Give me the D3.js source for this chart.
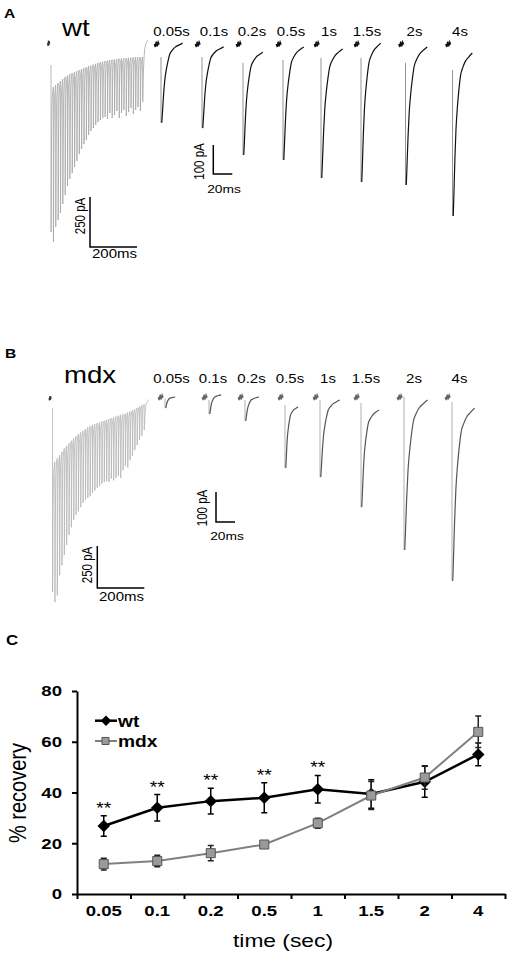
<!DOCTYPE html>
<html>
<head>
<meta charset="utf-8">
<script src="https://cdn.jsdelivr.net/npm/d3@7"></script>
<style>
  body { margin: 0; background: #fff; }
  svg { display: block; }
  text { font-family: "Liberation Sans", Arial, sans-serif; }
</style>
</head>
<body>
<svg id="fig" width="510" height="959"></svg>
<script>
// ---------------- data ----------------
const intervals = ["0.05s", "0.1s", "0.2s", "0.5s", "1s", "1.5s", "2s", "4s"];

// 100 Hz train, peak amplitude of each EPSC (pA) and the level reached before the next one
const wtTrainPeak = [945, 995, 920, 885, 850, 805, 760, 715, 680, 650, 620, 590, 555, 530, 505, 485, 460, 440, 425, 410,
  395, 385, 375, 370, 380, 350, 375, 360, 340, 375, 350, 335, 365, 345, 325, 355, 335, 320, 340, 295];
const wtTrainRecov = [220, 210, 200, 190, 180, 170, 162, 155, 150, 145, 140, 135, 130, 125, 120, 115, 112, 108, 104, 100,
  96, 93, 90, 88, 85, 83, 82, 80, 78, 77, 76, 75, 74, 73, 72, 71, 70, 70, 70];
const mdxTrainPeak = [1155, 1215, 1175, 1055, 995, 935, 875, 815, 770, 725, 695, 675, 650, 625, 605, 595, 585, 565, 550, 535,
  525, 510, 500, 495, 500, 480, 490, 475, 465, 475, 430, 405, 415, 370, 345, 310, 280, 250, 225, 190];
const mdxTrainRecov = [380, 360, 340, 320, 300, 285, 270, 255, 240, 228, 215, 205, 195, 185, 175, 168, 160, 155, 150, 145,
  140, 135, 130, 125, 120, 115, 110, 105, 100, 96, 92, 86, 80, 74, 68, 60, 52, 44, 36];

// single test EPSCs after each recovery interval (pA)
const wtRecPeak = [272, 290, 383, 400, 462, 476, 486, 593];
const wtRecTop = [45, 45, 65, 55, 48, 48, 65, 90];
const wtRecEnd = [-3, 10, 28, 10, 17, -3, 10, 31];
const wtRecDur = [22, 22, 20, 21, 22, 20, 22, 20];
const mdxRecPeak = [37, 57, 80, 237, 267, 367, 510, 613];
const mdxRecTop = [5, 10, 10, 27, 10, 20, 0, 17];
const mdxRecEnd = [0, -7, 0, 33, 10, 43, 10, 37];
const mdxRecDur = [10, 12, 14, 13, 20, 18, 24, 23];

// EPSC decay shape: [ms after peak, fraction of amplitude]
const decayShape = [[0, 1], [0.8, 0.85], [1.8, 0.65], [3, 0.47], [4.6, 0.33], [6, 0.24], [8, 0.14],
  [10.5, 0.09], [13.5, 0.05], [17, 0.025], [21, 0]];
const baseBit = [[-7, 0], [-6, 10], [-5, -8], [-4, 8], [-3, -6], [-2, 2]];

// panel C
const cats = ["0.05", "0.1", "0.2", "0.5", "1", "1.5", "2", "4"];
const wtMean = [26.8, 34, 36.6, 37.9, 41.3, 39.4, 44.2, 55];
const wtErr = [4, 5.2, 5.1, 5.9, 5.4, 5.6, 6.1, 4.5];
const mdxMean = [11.8, 13, 16.1, 19.5, 27.9, 38.8, 45.9, 63.9];
const mdxErr = [2.3, 2.3, 3, 1.5, 2, 5.5, 4.6, 6.2];
const sig = ["**", "**", "**", "**", "**", "", "", ""];
const yTicks = [0, 20, 40, 60, 80];

// ---------------- helpers ----------------
const S = 1.2; // the original lettering is stretched horizontally
const PULSE_MS = 10;
const svg = d3.select("#fig");
svg.append("rect").attr("width", 510).attr("height", 959).attr("fill", "#fff");

const label = (g, x, y, str, o = {}) =>
  g.append("text")
    .attr("transform", `translate(${x},${y}) scale(${S},1)` + (o.rotate ? " rotate(-90)" : ""))
    .attr("text-anchor", o.anchor || "start")
    .attr("dy", o.dy || null)
    .style("font-size", (o.size || 12) + "px")
    .style("font-weight", o.bold ? "bold" : "normal")
    .attr("fill", "#000")
    .text(str);

const drawTrain = (g, peaks, recov, startLevel, endLevel, x, y, color) => {
  const pts = [[0, startLevel]];
  peaks.forEach((p, i) => {
    const t0 = i * PULSE_MS;
    const last = i === peaks.length - 1;
    const target = last ? endLevel : recov[i];
    const span = last ? 22 : PULSE_MS - 0.6;
    pts.push([t0 + 0.3, p]);
    decayShape.slice(1).forEach(([dt, f]) => {
      pts.push([t0 + 0.6 + (dt / 21) * span, target + (p - target) * f]);
    });
  });
  const line = d3.line().x((d) => x(d[0])).y((d) => y(d[1]));
  g.append("path").datum(pts).attr("d", line)
    .attr("fill", "none").attr("stroke", color).attr("stroke-width", 0.8);
  g.append("path").datum(baseBit.map(([t, v]) => [t * 1.8 - 2, v * 1.5]))
    .attr("d", line).attr("fill", "none").attr("stroke", "#333").attr("stroke-width", 1.2);
};

const drawRecovery = (g, cols, peaks, tops, ends, durs, baseY, pxPerPA, col) => {
  intervals.forEach((lab, i) => {
    const c = cols(lab);
    const x = d3.scaleLinear().domain([0, 20]).range([c, c + 19]);
    const y = d3.scaleLinear().domain([0, 100]).range([baseY, baseY + 100 * pxPerPA]);
    const line = d3.line().x((d) => x(d[0])).y((d) => y(d[1]));
    g.append("path").datum(baseBit).attr("d", line)
      .attr("fill", "none").attr("stroke", col.base).attr("stroke-width", 1.5);
    g.append("path").datum([[0, tops[i]], [0, peaks[i]]]).attr("d", line)
      .attr("fill", "none").attr("stroke", col.spike).attr("stroke-width", 0.9);
    const dec = decayShape.map(([dt, f]) => [0.8 + (dt / 21) * durs[i], ends[i] + (peaks[i] - ends[i]) * f]);
    g.append("path").datum(dec).attr("d", line.curve(d3.curveMonotoneX))
      .attr("fill", "none").attr("stroke", col.decay).attr("stroke-width", 1.2);
  });
};

const scaleBar = (g, x0, y0, w, h) => {
  g.append("path").attr("d", `M${x0},${y0 - h}V${y0}H${x0 + w}`)
    .attr("fill", "none").attr("stroke", "#000").attr("stroke-width", 1.5);
};

// ---------------- panel A (wt) ----------------
const gA = svg.append("g");
label(gA, 4, 17.5, "A", { size: 13, bold: true });
label(gA, 62, 36, "wt", { size: 23 });
const xTrainA = d3.scaleLinear().domain([0, 400]).range([51, 145]);
const yTrainA = d3.scaleLinear().domain([0, 250]).range([43, 93]);
drawTrain(gA, wtTrainPeak, wtTrainRecov, 110, -15, xTrainA, yTrainA, "#a6a6a6");
const labA = d3.scaleOrdinal().domain(intervals).range([171.5, 214, 252, 291, 329, 367, 414.5, 460]);
const colA = d3.scaleOrdinal().domain(intervals).range([161, 202, 243, 283, 321, 361, 405.5, 452.5]);
intervals.forEach((d) => label(gA, labA(d), 36, d, { size: 12.5, anchor: "middle" }));
drawRecovery(gA, colA, wtRecPeak, wtRecTop, wtRecEnd, wtRecDur, 44, 0.29,
  { base: "#111", spike: "#8a8a8a", decay: "#111" });

scaleBar(gA, 90, 247, xTrainA(200) - xTrainA(0), yTrainA(250) - yTrainA(0));
label(gA, 80, 216, "250 pA", { size: 11.5, rotate: true, anchor: "middle", dy: "0.35em" });
label(gA, 114.5, 258, "200ms", { size: 12.5, anchor: "middle" });
scaleBar(gA, 213.3, 174, 19, 29);
label(gA, 199, 161.5, "100 pA", { size: 11.5, rotate: true, anchor: "middle", dy: "0.35em" });
label(gA, 224, 193, "20ms", { size: 11.5, anchor: "middle" });

// ---------------- panel B (mdx) ----------------
const gB = svg.append("g");
label(gB, 5, 358, "B", { size: 13, bold: true });
label(gB, 64, 383, "mdx", { size: 23 });
const xTrainB = d3.scaleLinear().domain([0, 400]).range([52.5, 146.5]);
const yTrainB = d3.scaleLinear().domain([0, 250]).range([398, 440]);
drawTrain(gB, mdxTrainPeak, mdxTrainRecov, 60, 10, xTrainB, yTrainB, "#b4b4b4");
const labB = d3.scaleOrdinal().domain(intervals).range([171.5, 213, 251.5, 290, 328, 366, 414, 459.5]);
const colB = d3.scaleOrdinal().domain(intervals).range([165, 209, 245, 285, 320, 361, 404, 452]);
intervals.forEach((d) => label(gB, labB(d), 383, d, { size: 12.5, anchor: "middle" }));
drawRecovery(gB, colB, mdxRecPeak, mdxRecTop, mdxRecEnd, mdxRecDur, 397, 0.3,
  { base: "#666", spike: "#a8a8a8", decay: "#555" });

scaleBar(gB, 97.3, 588, xTrainB(200) - xTrainB(0), yTrainB(250) - yTrainB(0));
label(gB, 87, 565, "250 pA", { size: 11.5, rotate: true, anchor: "middle", dy: "0.35em" });
label(gB, 121.5, 601, "200ms", { size: 12.5, anchor: "middle" });
scaleBar(gB, 216, 522, 19, 30);
label(gB, 202, 508, "100 pA", { size: 11.5, rotate: true, anchor: "middle", dy: "0.35em" });
label(gB, 227, 540, "20ms", { size: 11.5, anchor: "middle" });

// ---------------- panel C ----------------
const gC = svg.append("g");
label(gC, 6, 645, "C", { size: 14, bold: true });

const x = d3.scaleBand().domain(cats).range([77, 505]);
const xb = d3.scaleLinear().domain([0, cats.length]).range(x.range());
const y = d3.scaleLinear().domain([0, 80]).range([894, 691]);
const cxp = (c) => x(c) + x.bandwidth() / 2;

const yAxis = gC.append("g").attr("transform", "translate(77,0)")
  .call(d3.axisLeft(y).tickValues(yTicks).tickSize(5).tickSizeOuter(0).tickFormat(""));
const xAxis = gC.append("g").attr("transform", "translate(0,894)")
  .call(d3.axisBottom(xb).tickValues(d3.range(cats.length + 1)).tickSize(5).tickSizeOuter(0).tickFormat(""));
[yAxis, xAxis].forEach((a) => {
  a.select(".domain").attr("stroke-width", 2);
  a.selectAll(".tick line").attr("stroke-width", 2);
});
yTicks.forEach((v) => label(gC, 62, y(v), v, { size: 15.5, bold: true, anchor: "end", dy: "0.35em" }));
cats.forEach((c) => label(gC, cxp(c), 916, c, { size: 15.5, bold: true, anchor: "middle" }));
label(gC, 283, 947, "time (sec)", { size: 19, anchor: "middle" });
label(gC, 18, 793, "% recovery", { size: 20, rotate: true, anchor: "middle", dy: "0.35em" });

const series = [
  { mean: wtMean, err: wtErr, line: "#000", lw: 2.5, bar: "#000" },
  { mean: mdxMean, err: mdxErr, line: "#808080", lw: 2, bar: "#222" },
];
series.forEach((s) => {
  const g = gC.append("g");
  s.mean.forEach((m, i) => {
    const cx = cxp(cats[i]);
    g.append("path")
      .attr("d", `M${cx},${y(m - s.err[i])}V${y(m + s.err[i])}M${cx - 3},${y(m + s.err[i])}h6M${cx - 3},${y(m - s.err[i])}h6`)
      .attr("stroke", s.bar).attr("stroke-width", 1.5).attr("fill", "none");
  });
  g.append("path").datum(s.mean)
    .attr("d", d3.line().x((d, i) => cxp(cats[i])).y((d) => y(d)))
    .attr("fill", "none").attr("stroke", s.line).attr("stroke-width", s.lw);
  s.g = g;
});
// markers
series[0].g.selectAll("path.m").data(wtMean).join("path").attr("class", "m")
  .attr("d", d3.symbol(d3.symbolSquare, 78))
  .attr("transform", (d, i) => `translate(${cxp(cats[i])},${y(d)}) rotate(45)`)
  .attr("fill", "#000");
series[1].g.selectAll("path.m").data(mdxMean).join("path").attr("class", "m")
  .attr("d", d3.symbol(d3.symbolSquare, 82))
  .attr("transform", (d, i) => `translate(${cxp(cats[i])},${y(d)})`)
  .attr("fill", "#9a9a9a").attr("stroke", "#555").attr("stroke-width", 1);

sig.forEach((s, i) => {
  if (s) label(gC, cxp(cats[i]), y(wtMean[i] + wtErr[i]) - 2, s, { size: 16, anchor: "middle" });
});

// legend
const lg = gC.append("g");
lg.append("line").attr("x1", 95).attr("x2", 117).attr("y1", 720.7).attr("y2", 720.7)
  .attr("stroke", "#000").attr("stroke-width", 2.5);
lg.append("path").attr("d", d3.symbol(d3.symbolSquare, 55))
  .attr("transform", "translate(106,720.7) rotate(45)").attr("fill", "#000");
label(lg, 118, 727, "wt", { size: 16, bold: true });
lg.append("line").attr("x1", 95).attr("x2", 117).attr("y1", 741).attr("y2", 741)
  .attr("stroke", "#808080").attr("stroke-width", 2);
lg.append("path").attr("d", d3.symbol(d3.symbolSquare, 50))
  .attr("transform", "translate(105.5,741)").attr("fill", "#9a9a9a").attr("stroke", "#555");
label(lg, 118, 747, "mdx", { size: 16, bold: true });
</script>
</body>
</html>
